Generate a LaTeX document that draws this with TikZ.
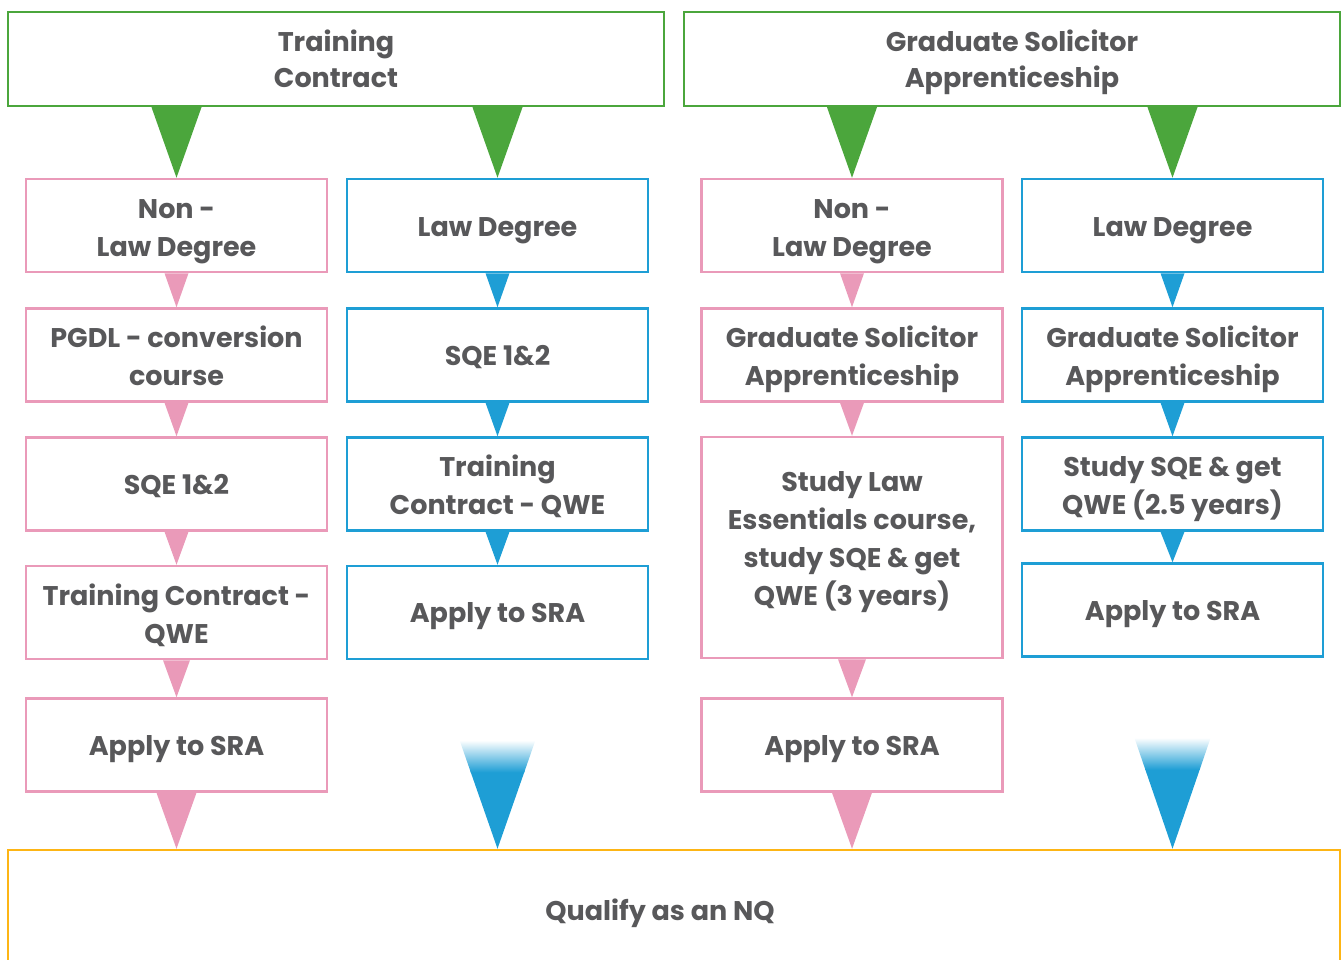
\documentclass[tikz,border=0pt]{standalone}
\usepackage{fontspec}
\setmainfont{Poppins}
\usetikzlibrary{calc}
\definecolor{gr}{HTML}{4BA63C}
\definecolor{pk}{HTML}{EA9AB9}
\definecolor{bl}{HTML}{1E9ED5}
\definecolor{yl}{HTML}{FDB515}
\definecolor{tx}{HTML}{58585A}
\newcommand\mytri[4]{\fill[#1] ($#2+(-#4,0)$) -- ($#2+(#4,0)$) -- #3 -- cycle;}
\newcommand\bx[5]{\node[#1] (#2) at #3 {}; \node[txt] (#2t) at ($(#2.center)+#4$) {#5};}
\begin{document}
\begin{tikzpicture}[x=1pt,y=-1pt,
  txt/.style={align=center, text=tx, inner sep=0pt,
    font=\fontsize{27}{38}\selectfont\bfseries},
  box/.style={draw, line width=2.5pt, fill=white, inner sep=0pt,
    minimum width=301pt, minimum height=93pt},
  pbox/.style={box, draw=pk},
  bbox/.style={box, draw=bl},
  gbox/.style={box, draw=gr, minimum width=656pt, minimum height=94pt},
  ybox/.style={box, draw=yl, minimum width=1332pt, minimum height=125pt}]
\useasboundingbox (0,0) rectangle (1343,960);
% top boxes
\bx{gbox}{tc}{(336,59)}{(0,0)}{Training\\[-2pt]Contract}
\bx{gbox}{gsa}{(1012,59)}{(0,3)}{Graduate Solicitor\\[-2pt]Apprenticeship}
% column 1
\bx{pbox}{a1}{(176.5,225.5)}{(0,6)}{Non -\\Law Degree}
\bx{pbox}{a2}{(176.5,355)}{(0,1)}{PGDL - conversion\\course}
\bx{pbox}{a3}{(176.5,484)}{(0,2)}{SQE 1\&2}
\bx{pbox}{a4}{(176.5,612.5)}{(0,3)}{Training Contract -\\QWE}
\bx{pbox}{a5}{(176.5,745)}{(0,4)}{Apply to SRA}
% column 2
\bx{bbox}{b1}{(497.5,225.5)}{(0,5)}{Law Degree}
\bx{bbox}{b2}{(497.5,355)}{(0,2)}{SQE 1\&2}
\bx{bbox}{b3}{(497.5,484)}{(0,2)}{Training\\Contract - QWE}
\bx{bbox}{b4}{(497.5,612.5)}{(0,4)}{Apply to SRA}
% column 3
\bx{pbox}{c1}{(852,225.5)}{(0,6)}{Non -\\Law Degree}
\bx{pbox}{c2}{(852,355)}{(0,4)}{Graduate Solicitor\\Apprenticeship}
\bx{pbox, minimum height=221pt}{c3}{(852,547.5)}{(0,-5)}{Study Law\\Essentials course,\\study SQE \& get\\QWE (3 years)}
\bx{pbox}{c5}{(852,745)}{(0,4)}{Apply to SRA}
% column 4
\bx{bbox}{d1}{(1172.5,225.5)}{(0,5)}{Law Degree}
\bx{bbox}{d2}{(1172.5,355)}{(0,4)}{Graduate Solicitor\\Apprenticeship}
\bx{bbox}{d3}{(1172.5,484)}{(0,5)}{Study SQE \& get\\QWE (2.5 years)}
\bx{bbox}{d4}{(1172.5,610)}{(0,4)}{Apply to SRA}
% bottom
\bx{ybox}{nq}{(674,912.5)}{(-14,1)}{Qualify as an NQ}
% green triangles
\mytri{gr}{(a1.north |- tc.south)}{(a1.north)}{25}
\mytri{gr}{(b1.north |- tc.south)}{(b1.north)}{25}
\mytri{gr}{(c1.north |- gsa.south)}{(c1.north)}{25}
\mytri{gr}{(d1.north |- gsa.south)}{(d1.north)}{25}
% pink small triangles
\mytri{pk}{(a1.south)}{(a2.north)}{12}
\mytri{pk}{(a2.south)}{(a3.north)}{12}
\mytri{pk}{(a3.south)}{(a4.north)}{12}
\mytri{pk}{(a4.south)}{(a5.north)}{13.5}
\mytri{pk}{(c1.south)}{(c2.north)}{12}
\mytri{pk}{(c2.south)}{(c3.north)}{12}
\mytri{pk}{(c3.south)}{(c5.north)}{14}
% blue small triangles
\mytri{bl}{(b1.south)}{(b2.north)}{12}
\mytri{bl}{(b2.south)}{(b3.north)}{12}
\mytri{bl}{(b3.south)}{(b4.north)}{12}
\mytri{bl}{(d1.south)}{(d2.north)}{12}
\mytri{bl}{(d2.south)}{(d3.north)}{12}
\mytri{bl}{(d3.south)}{(d4.north)}{12}
% pink big triangles to bottom
\mytri{pk}{(a5.south)}{(a5.south |- nq.north)}{20}
\mytri{pk}{(c5.south)}{(c5.south |- nq.north)}{20}
% gradient blue triangles
\foreach \s in {b4,d4}{
  \coordinate (t\s) at ($(\s.south)+(0,44)$);
  \coordinate (p\s) at (\s.south |- nq.north);
  \begin{scope}
    \clip ($(t\s)+(-50.5,0)$) -- ($(t\s)+(50.5,0)$) -- (p\s) -- cycle;
    \fill[bl] ($(t\s)+(-60,67)$) rectangle ($(p\s)+(60,0)$);
    \shade[top color=white, bottom color=bl] ($(t\s)+(-60,36)$) rectangle ($(t\s)+(60,68)$);
  \end{scope}
}
\end{tikzpicture}
\end{document}
